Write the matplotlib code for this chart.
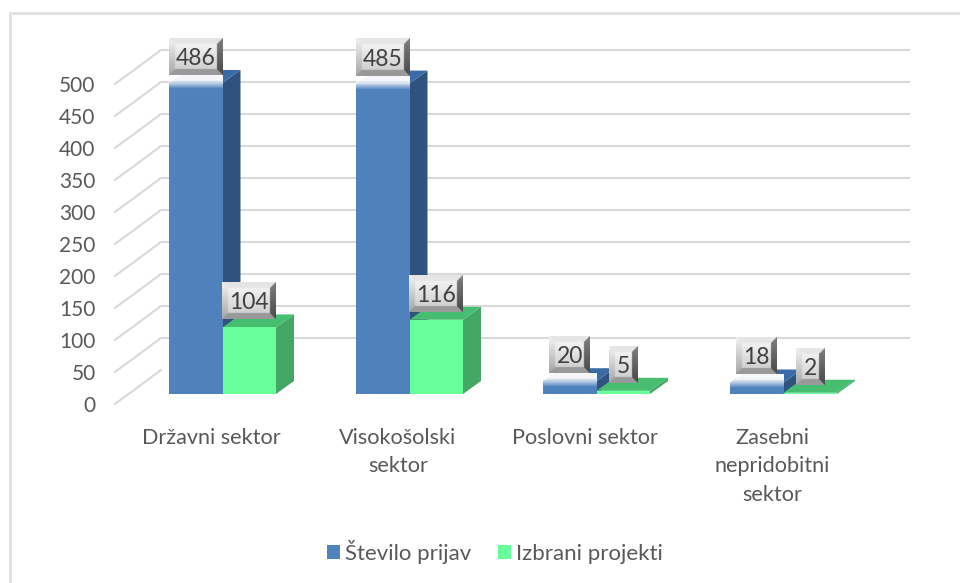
import numpy as np
import matplotlib
matplotlib.use("Agg")
import matplotlib.pyplot as plt
from matplotlib.lines import Line2D
from matplotlib.patches import Polygon, Patch

plt.rcParams['font.family'] = ['Lato', 'DejaVu Sans']

categories = ['Državni sektor', 'Visokošolski\nsektor', 'Poslovni sektor', 'Zasebni\nnepridobitni\nsektor']
prijave = [486, 485, 20, 18]
izbrani = [104, 116, 5, 2]
series_names = ['Število prijav', 'Izbrani projekti']
ticks = list(range(0, 501, 50))

blue = ('#4F81BD', '#2F527F', '#3A6BA6')
green = ('#66FF99', '#43A866', '#47BD70')
grey = '#D9D9D9'
text_col = '#595959'

W, H = 960, 583
fig = plt.figure(figsize=(W / 100, H / 100), dpi=100)
# axes = front edge of the 3d floor: 0 at y=404px, 500 at y=84px
ax = fig.add_axes([115 / W, (H - 404) / H, 748 / W, 320 / H])
ax.set_xlim(0, 4)
ax.set_ylim(0, 500)
PX = 4 / 748      # category units per pixel
PY = 500 / 320    # value units per pixel
ax.patch.set_alpha(0)
for s in ax.spines.values():
    s.set_visible(False)


def off(dx, dy):
    return dx * PX, dy * PY


# chart frame
fig.add_artist(Line2D([10 / W, 10 / W], [0, 1 - 13 / H], color='#E2E2E2', lw=2.2))
fig.add_artist(Line2D([10 / W, 1], [1 - 13 / H, 1 - 13 / H], color='#E2E2E2', lw=2.2))

# gridlines, floor and back wall
ddx, ddy = off(46, 34)
for t in ticks[1:]:
    ax.plot([0, ddx, 4 + ddx], [t, t + ddy, t + ddy], color=grey, lw=1.5, clip_on=False, zorder=1)
ax.plot([0, ddx], [0, ddy], color=grey, lw=1.5, clip_on=False, zorder=1)

bar_w = 53.5 * PX
depth_x, depth_y = off(18, 13)
plane_y = 10 * PY
start = 54 * PX   # first bar begins at x=169px


def draw_bar(x, v, cols):
    x0, x1 = x + start, x + start + bar_w
    y0, y1 = plane_y, plane_y + v
    ax.add_patch(Polygon([(x1, y0), (x1 + depth_x, y0 + depth_y), (x1 + depth_x, y1 + depth_y), (x1, y1)],
                         fc=cols[1], ec='none', clip_on=False, zorder=3))
    ax.add_patch(Polygon([(x0, y1), (x1, y1), (x1 + depth_x, y1 + depth_y), (x0 + depth_x, y1 + depth_y)],
                         fc=cols[2], ec='none', clip_on=False, zorder=3))
    ax.add_patch(Polygon([(x0, y0), (x1, y0), (x1, y1), (x0, y1)], fc=cols[0], ec='none', clip_on=False, zorder=3))


def draw_glow(x, v):
    # white fade from the label down over the top of the blue bar
    x0, x1 = x + start, x + start + bar_w
    top = plane_y + v + 8 * PY
    low = plane_y + v - 6 * PY
    a = np.clip(np.linspace(1.5, 0, 30), 0, 0.95)
    img = np.ones((30, 1, 4))
    img[:, 0, 3] = a
    ax.imshow(img, extent=[x0, x1, low, top], origin='upper', aspect='auto', zorder=3.5, clip_on=False,
              interpolation='bilinear')


def label_image(w, h, bevel=6, ss=3):
    # silver bevelled box, shaded per side
    nx, ny = w * ss, h * ss
    u, v = np.meshgrid((np.arange(nx) + 0.5) / ss, (np.arange(ny) + 0.5) / ss)
    t = v / h
    img = 0.98 - 0.2 * t
    dl, dr, dt, db = u, w - u, v, h - v
    m = np.minimum(np.minimum(dl, dr), np.minimum(dt, db))
    edge = m < bevel
    img = np.where(edge & (dt == m), 0.9, img)
    img = np.where(edge & (dl == m), 0.95 - 0.3 * t, img)
    img = np.where(edge & (db == m), 0.6, img)
    img = np.where(edge & (dr == m), 0.5 - 0.22 * t, img)
    return img


def draw_label(x, v):
    cx = x + start + bar_w / 2
    w_px = {1: 29, 2: 41, 3: 54}[len(str(v))]
    w = w_px * PX
    h = 37 * PY
    b = plane_y + v + 8 * PY
    xa, xb = cx - w / 2, cx + w / 2
    ya, yb = b, b + h
    ax.imshow(label_image(w_px, 37), cmap='gray', vmin=0, vmax=1, extent=[xa, xb, ya, yb],
              origin='upper', aspect='auto', zorder=5.5, clip_on=False, interpolation='bilinear')
    ax.text(cx, (ya + yb) / 2 - 2 * PY, str(v), ha='center', va='center', fontsize=16.5, color='#404040', zorder=6)


for i, (a, b) in enumerate(zip(prijave, izbrani)):
    draw_bar(i, a, blue)
    draw_glow(i, a)
    draw_bar(i + bar_w, b, green)
for i, (a, b) in enumerate(zip(prijave, izbrani)):
    draw_label(i, a)
    draw_label(i + bar_w, b)

ax.set_xlim(0, 4)
ax.set_ylim(0, 500)
ax.set_yticks(ticks)
ax.set_xticks(np.arange(4) + 0.5 + 2.5 * PX)
ax.set_xticklabels(categories, linespacing=1.55)
ax.tick_params(axis='both', length=0, labelsize=15, labelcolor=text_col)
ax.tick_params(axis='y', pad=14)
ax.tick_params(axis='x', pad=17, labelsize=15.6)

handles = [Patch(fc=blue[0], ec='none'), Patch(fc=green[0], ec='none')]
fig.legend(handles, series_names, loc='center', bbox_to_anchor=(495 / W, 1 - 552 / H), ncol=2, frameon=False,
           fontsize=16, labelcolor=text_col, handlelength=0.6, handleheight=0.6, handletextpad=0.22,
           columnspacing=1.2)

fig.savefig('out.png', dpi=100)
